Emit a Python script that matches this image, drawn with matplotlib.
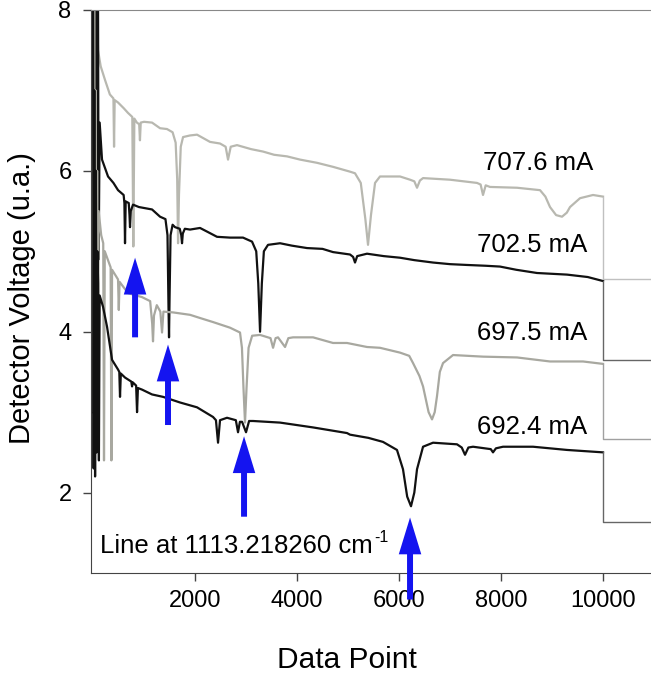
import matplotlib.pyplot as plt

plt.rcParams['font.family'] = ['Liberation Sans', 'DejaVu Sans']

# (data point, detector voltage) for each laser current
trace_707 = [(0, 8.3), (12, 4.2), (25, 8.3), (38, 5.6), (50, 8.2), (65, 6.0), (80, 7.9),
             (98, 7.5), (150, 7.3), (235, 7.13), (330, 6.95), (400, 6.9), (412, 6.3),
             (424, 6.88), (490, 6.85), (600, 6.78), (686, 6.72), (770, 6.67), (790, 5.06),
             (810, 6.65), (860, 6.6), (905, 6.58), (920, 6.38), (935, 6.6), (1000, 6.61),
             (1157, 6.6), (1314, 6.53), (1450, 6.52), (1560, 6.48), (1620, 6.35), (1650, 5.9),
             (1667, 5.1), (1685, 5.7), (1720, 6.3), (1765, 6.42), (1900, 6.44), (2039, 6.45),
             (2294, 6.36), (2490, 6.34), (2600, 6.3), (2647, 6.14), (2700, 6.3), (2823, 6.32),
             (3100, 6.27), (3333, 6.24), (3550, 6.2), (3804, 6.18), (4059, 6.14), (4392, 6.1),
             (4706, 6.05), (5039, 5.99), (5137, 5.97), (5250, 5.85), (5340, 5.4), (5392, 5.08),
             (5450, 5.45), (5530, 5.85), (5627, 5.93), (6020, 5.93), (6216, 5.89), (6300, 5.87),
             (6353, 5.79), (6410, 5.88), (6471, 5.91), (7000, 5.89), (7529, 5.85), (7600, 5.83),
             (7647, 5.70), (7700, 5.82), (7784, 5.8), (8314, 5.79), (8765, 5.76), (8870, 5.68),
             (8961, 5.55), (9080, 5.45), (9196, 5.43), (9290, 5.48), (9353, 5.55), (9549, 5.66),
             (9804, 5.70), (10000, 5.68), (10000, 4.66), (11000, 4.66)]

trace_702 = [(0, 3.0), (10, 8.3), (20, 4.5), (30, 8.3), (45, 3.5), (60, 8.0), (75, 5.0),
             (97, 8.3), (110, 4.9), (130, 6.6), (176, 6.14), (294, 5.93), (400, 5.85),
             (490, 5.76), (600, 5.7), (615, 5.6), (627, 5.1), (640, 5.62), (700, 5.6),
             (715, 5.45), (725, 5.3), (740, 5.5), (784, 5.58), (900, 5.55), (1157, 5.52),
             (1314, 5.43), (1420, 5.40), (1460, 5.2), (1480, 4.3), (1490, 3.93), (1500, 4.4),
             (1520, 5.2), (1560, 5.33), (1608, 5.30), (1700, 5.28), (1730, 5.2), (1745, 5.1),
             (1760, 5.22), (1800, 5.28), (1902, 5.27), (2098, 5.29), (2250, 5.24), (2431, 5.18),
             (2686, 5.17), (2941, 5.17), (3118, 5.12), (3200, 5.0), (3240, 4.6), (3275, 4.0),
             (3310, 4.6), (3350, 5.0), (3431, 5.08), (3667, 5.10), (3900, 5.07), (4196, 5.04),
             (4500, 5.03), (4706, 4.99), (5039, 4.96), (5100, 4.93), (5137, 4.86), (5180, 4.94),
             (5372, 4.97), (5700, 4.94), (6020, 4.92), (6300, 4.89), (6667, 4.86), (7000, 4.84),
             (7333, 4.83), (7700, 4.82), (7980, 4.81), (8300, 4.77), (8706, 4.73), (9000, 4.72),
             (9294, 4.71), (9700, 4.68), (10000, 4.63), (10000, 3.65), (11000, 3.65)]

trace_697 = [(0, 8.3), (10, 3.0), (22, 8.0), (35, 2.6), (50, 7.0), (65, 2.5), (80, 6.0),
             (95, 2.9), (110, 5.5), (160, 5.2), (200, 5.1), (215, 2.4), (230, 5.0),
             (345, 4.8), (360, 2.4), (373, 4.77), (490, 4.65), (505, 4.27), (520, 4.62),
             (686, 4.48), (961, 4.43), (1120, 4.38), (1160, 4.1), (1176, 3.88), (1195, 4.2),
             (1250, 4.33), (1320, 4.25), (1353, 3.99), (1380, 4.25), (1569, 4.24), (1902, 4.21),
             (2100, 4.17), (2353, 4.12), (2686, 4.05), (2882, 3.99), (2920, 3.8), (2950, 3.3),
             (2980, 2.87), (3010, 3.3), (3050, 3.8), (3120, 3.95), (3275, 3.96), (3480, 3.92),
             (3530, 3.80), (3580, 3.92), (3627, 3.93), (3765, 3.81), (3830, 3.92), (3922, 3.93),
             (4314, 3.93), (4706, 3.86), (4980, 3.86), (5372, 3.81), (5627, 3.80), (6020, 3.74),
             (6200, 3.70), (6275, 3.61), (6400, 3.45), (6471, 3.32), (6580, 3.0), (6647, 2.91),
             (6700, 3.0), (6745, 3.2), (6800, 3.5), (6863, 3.61), (7059, 3.71), (7647, 3.69),
             (8314, 3.68), (8961, 3.63), (9608, 3.63), (10000, 3.60), (10000, 2.66), (11000, 2.66)]

trace_692 = [(0, 8.3), (12, 2.3), (25, 7.0), (40, 2.2), (55, 6.0), (70, 2.5), (85, 5.0),
             (100, 4.6), (115, 2.4), (130, 4.45), (196, 4.31), (275, 4.06), (373, 3.65),
             (490, 3.53), (515, 3.5), (529, 3.19), (545, 3.48), (627, 3.43), (750, 3.38),
             (765, 3.32), (780, 3.37), (845, 3.33), (863, 3.0), (880, 3.3), (961, 3.28),
             (1157, 3.22), (1373, 3.19), (1706, 3.12), (2039, 3.06), (2353, 2.94), (2410, 2.9),
             (2451, 2.62), (2490, 2.9), (2627, 2.93), (2800, 2.9), (2843, 2.75), (2880, 2.88),
             (2922, 2.88), (3000, 2.75), (3060, 2.89), (3137, 2.89), (3667, 2.87), (4314, 2.81),
             (4980, 2.74), (5039, 2.72), (5400, 2.68), (5686, 2.63), (5960, 2.53), (6078, 2.29),
             (6160, 1.95), (6235, 1.83), (6300, 2.0), (6353, 2.29), (6471, 2.57), (6667, 2.62),
             (7137, 2.60), (7230, 2.56), (7294, 2.47), (7360, 2.56), (7451, 2.57), (7800, 2.54),
             (7843, 2.50), (7900, 2.55), (8039, 2.57), (8627, 2.57), (9294, 2.53), (10000, 2.50),
             (10000, 1.64), (11000, 1.64)]

currents = ['707.6 mA', '702.5 mA', '697.5 mA', '692.4 mA']
traces = [trace_707, trace_702, trace_697, trace_692]
colors = ['#b8b8b0', '#111111', '#a8a8a0', '#111111']
tail_colors = ['#c0c0c0', '#666666', '#a0a0a0', '#666666']
label_pos = [(8725, 6.10), (8610, 5.08), (8610, 3.99), (8610, 2.82)]

# blue arrows marking the 1113.218260 cm-1 line in each scan
arrow_x = [824, 1470, 2961, 6216]
arrow_tip = [4.92, 3.84, 2.70, 1.69]
arrow_tail = [3.93, 2.84, 1.70, 0.67]

fig = plt.figure(figsize=(6.51, 6.81), dpi=100)
ax = fig.add_axes([91 / 651, 108 / 681, 563 / 651, 563 / 681])

for tr, c, tc in zip(traces, colors, tail_colors):
    xs = [p[0] for p in tr]
    ys = [p[1] for p in tr]
    # scan itself, then the reset step after the last point
    ax.plot(xs[:-2], ys[:-2], color=c, lw=1.6, solid_joinstyle='round')
    ax.plot(xs[-3:], ys[-3:], color=tc, lw=1.0)

for name, (lx, ly) in zip(currents, label_pos):
    ax.text(lx, ly, name, ha='center', va='center', fontsize=18.5)

for x, tip, tail in zip(arrow_x, arrow_tip, arrow_tail):
    ax.annotate('', xy=(x, tip), xytext=(x, tail), annotation_clip=False,
                arrowprops=dict(arrowstyle='-|>,head_length=0.85,head_width=0.26',
                                mutation_scale=20, lw=4.3, color='#1414f0',
                                joinstyle='miter', capstyle='butt',
                                shrinkA=0, shrinkB=0), zorder=5)

line_txt = ax.text(137, 1.33, 'Line at 1113.218260 cm', ha='left', va='center',
                   fontsize=18.5)
ax.annotate('-1', xy=(1, 1), xycoords=line_txt, xytext=(1, 3),
            textcoords='offset points', ha='left', va='top', fontsize=11.5)

ax.set_xlim(-40, 11000)
ax.set_ylim(1, 8)
ax.set_xticks([2000, 4000, 6000, 8000, 10000])
ax.set_yticks([2, 4, 6, 8])
ax.tick_params(direction='out', length=6, width=1, labelsize=17, color='#444444')
ax.tick_params(axis='y', pad=8)
ax.tick_params(axis='x', pad=6)
ax.spines['right'].set_visible(False)
ax.spines['top'].set_color('#888888')
for s in ['left', 'bottom']:
    ax.spines[s].set_color('#444444')

fig.text(347 / 651, 1 - 660 / 681, 'Data Point', ha='center', va='center', fontsize=21.5)
fig.text(22 / 651, 1 - 298 / 681, 'Detector Voltage (u.a.)', ha='center', va='center',
         rotation=90, fontsize=21)

fig.savefig('out.png', dpi=100)
